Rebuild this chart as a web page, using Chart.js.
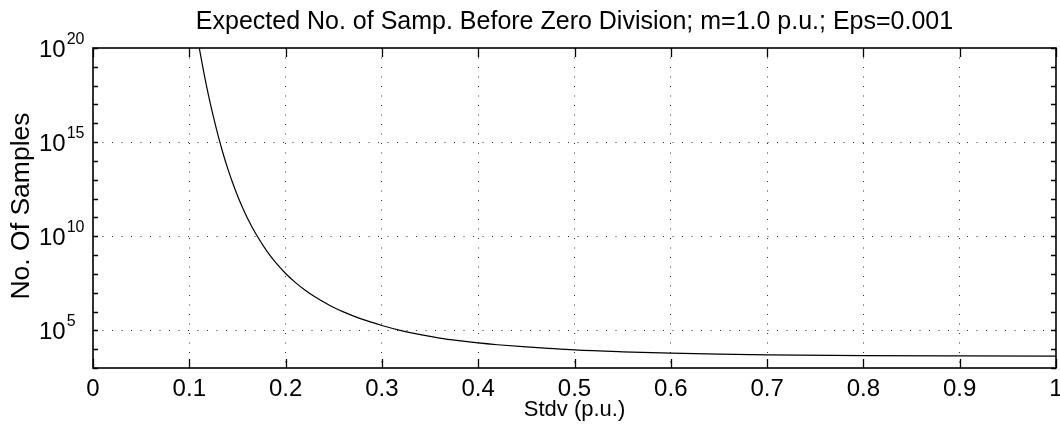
<!DOCTYPE html>
<html><head><meta charset="utf-8">
<script src="https://cdn.jsdelivr.net/npm/chart.js@4.4.1/dist/chart.umd.min.js"></script>
<style>html,body{margin:0;padding:0;background:#fff;}#wrap{width:1060px;height:434px;}</style>
</head><body><div id="wrap"><canvas id="c" width="1060" height="434"></canvas></div>
<script>
const titleText = 'Expected No. of Samp. Before Zero Division; m=1.0 p.u.; Eps=0.001';
const xTitle = 'Stdv (p.u.)';
const yTitle = 'No. Of Samples';

// Stdv (p.u.) values and expected number of samples
const stdv = [0.110,0.115,0.120,0.125,0.130,0.135,0.140,0.145,0.150,0.155,0.160,0.170,0.180,0.190,0.200,0.210,0.220,0.230,0.240,0.250,0.260,0.280,0.300,0.320,0.340,0.360,0.380,0.400,0.420,0.450,0.500,0.550,0.600,0.650,0.700,0.800,0.900,1.000];
const samples = [1.26e20,5.25e18,2.95e17,2.24e16,2.14e15,2.57e14,3.80e13,6.92e12,1.45e12,3.55e11,1.00e11,1.12e10,1.78e9,3.80e8,1.05e8,3.55e7,1.41e7,6.31e6,3.09e6,1.62e6,9.55e5,3.80e5,1.82e5,9.77e4,5.89e4,3.89e4,2.82e4,2.14e4,1.72e4,1.32e4,9.12e3,7.24e3,6.10e3,5.43e3,5.01e3,4.57e3,4.37e3,4.27e3];

const xTickValues = [0,0.1,0.2,0.3,0.4,0.5,0.6,0.7,0.8,0.9,1];
const xTickLabels = ['0','0.1','0.2','0.3','0.4','0.5','0.6','0.7','0.8','0.9','1'];
const yTickValues = [1e5,1e10,1e15,1e20];
const yTickBase = ['10','10','10','10'];
const yTickExp = ['5','10','15','20'];
const yMinorValues = [1e3,1e4,1e5,1e6,1e7,1e8,1e9,1e10,1e11,1e12,1e13,1e14,1e15,1e16,1e17,1e18,1e19,1e20];

const FONT = '"Liberation Sans", Arial, Helvetica, sans-serif';

function isMajorY(v){ return yTickValues.indexOf(v) >= 0 && v < 1e20; }

function txt(ctx, s, x, y, size, align, rotated){
  ctx.save();
  ctx.translate(x, y);
  if (rotated) ctx.rotate(-Math.PI / 2);
  ctx.font = size + 'px ' + FONT;
  ctx.textAlign = align;
  ctx.textBaseline = 'alphabetic';
  ctx.fillStyle = '#000';
  ctx.fillText(s, 0, 0);
  ctx.restore();
}

const framePlugin = {
  id: 'matlabFrame',
  afterDraw(chart){
    const {ctx, chartArea: a, scales: {x, y}} = chart;
    ctx.save();
    ctx.strokeStyle = '#000';
    ctx.lineWidth = 1.6;
    ctx.strokeRect(a.left, a.top, a.right - a.left, a.bottom - a.top);
    ctx.lineWidth = 1.3;
    ctx.beginPath();
    xTickValues.forEach(v => {
      const px = Math.round(x.getPixelForValue(v)) + 0.5;
      ctx.moveTo(px, a.bottom); ctx.lineTo(px, a.bottom - 9);
      ctx.moveTo(px, a.top); ctx.lineTo(px, a.top + 9);
    });
    yMinorValues.forEach(v => {
      const py = Math.round(y.getPixelForValue(v)) + 0.5;
      ctx.moveTo(a.left, py); ctx.lineTo(a.left + 5, py);
      ctx.moveTo(a.right, py); ctx.lineTo(a.right - 5, py);
    });
    ctx.stroke();
    // x tick labels
    xTickValues.forEach((v, i) => {
      txt(ctx, xTickLabels[i], x.getPixelForValue(v), a.bottom + 28, 24, 'center');
    });
    // y tick labels 10^n
    yTickValues.forEach((v, i) => {
      const py = y.getPixelForValue(v);
      const lx = a.left - 54;
      txt(ctx, yTickBase[i], lx, py + 8.5, 24, 'left');
      ctx.font = '24px ' + FONT;
      const w = ctx.measureText(yTickBase[i]).width;
      txt(ctx, yTickExp[i], lx + w + 1, py - 4, 16, 'left');
    });
    // titles
    txt(ctx, titleText, (a.left + a.right) / 2, 28.5, 25, 'center');
    txt(ctx, xTitle, (a.left + a.right) / 2, 416, 22, 'center');
    txt(ctx, yTitle, 29, 206, 26.5, 'center', true);
    ctx.restore();
  }
};

new Chart(document.getElementById('c'), {
  type: 'line',
  data: {
    datasets: [{
      data: stdv.map((v, i) => ({x: v, y: samples[i]})),
      borderColor: '#000',
      borderWidth: 1.2,
      pointRadius: 0,
      fill: false,
      cubicInterpolationMode: 'monotone'
    }]
  },
  options: {
    responsive: false,
    animation: false,
    devicePixelRatio: 1,
    layout: {padding: {left: 0, right: 4, top: 48, bottom: 0}},
    plugins: {legend: {display: false}, title: {display: false}, tooltip: {enabled: false}},
    scales: {
      x: {
        type: 'linear', min: 0, max: 1,
        afterBuildTicks: s => { s.ticks = xTickValues.map(v => ({value: v})); },
        ticks: {display: false},
        grid: {drawTicks: false, lineWidth: 1,
          color: c => (c.tick && c.tick.value > 0 && c.tick.value < 1) ? '#333' : 'rgba(0,0,0,0)'},
        border: {display: false, dash: [1, 8.5]},
        afterFit: s => { s.height = 66; s.paddingLeft = 0; s.paddingRight = 0; }
      },
      y: {
        type: 'logarithmic', min: 1e3, max: 1e20,
        afterBuildTicks: s => { s.ticks = yMinorValues.map(v => ({value: v})); },
        ticks: {display: false},
        grid: {drawTicks: false, lineWidth: 1,
          color: c => (c.tick && isMajorY(c.tick.value)) ? '#333' : 'rgba(0,0,0,0)'},
        border: {display: false, dash: [1, 8.5]},
        afterFit: s => { s.width = 93; s.paddingTop = 0; s.paddingBottom = 0; }
      }
    }
  },
  plugins: [framePlugin]
});
</script></body></html>
